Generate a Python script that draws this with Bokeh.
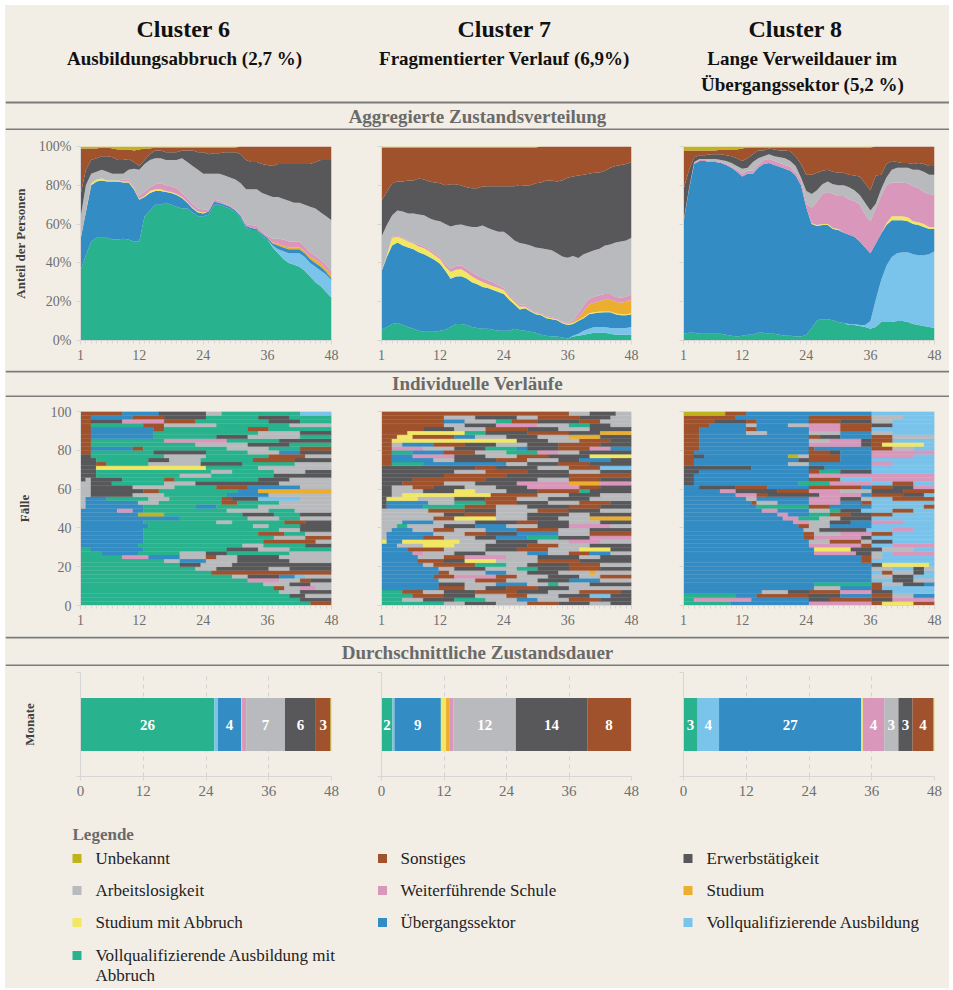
import textwrap
import numpy as np
from bokeh.plotting import figure
from bokeh.layouts import column, row
from bokeh.models import Range1d, FixedTicker, ColumnDataSource, NumeralTickFormatter, CustomJSTickFormatter
from bokeh.core.properties import value
from bokeh.embed import file_html
from bokeh.resources import INLINE

# ------------------------------------------------------------------ data
months = list(range(1, 49))

# stacking order (bottom -> top)
state_keys = ["vma", "va", "ues", "sma", "stud", "ws", "al", "erw", "sonst", "unb"]
state_labels = ["Vollqualifizierende Ausbildung mit Abbruch", "Vollqualifizierende Ausbildung",
                "Übergangssektor", "Studium mit Abbruch", "Studium", "Weiterführende Schule",
                "Arbeitslosigkeit", "Erwerbstätigkeit", "Sonstiges", "Unbekannt"]
state_colors = ["#28B38E", "#7AC3EB", "#338CC3", "#F2E763", "#EBAE2E", "#D997BB",
                "#B9BABD", "#58585B", "#A0522D", "#BFB41C"]
state_codes = ["G", "L", "B", "Y", "T", "W", "A", "E", "S", "U"]

cluster_titles = ["Cluster 6", "Cluster 7", "Cluster 8"]
cluster_subtitles = [["Ausbildungsabbruch (2,7 %)"],
                     ["Fragmentierter Verlauf (6,9%)"],
                     ["Lange Verweildauer im", "Übergangssektor (5,2 %)"]]
section_titles = ["Aggregierte Zustandsverteilung", "Individuelle Verläufe",
                  "Durchschnittliche Zustandsdauer"]
month_ticks = [1, 12, 24, 36, 48]
share_ticks = [0, 0.2, 0.4, 0.6, 0.8, 1.0]
case_ticks = [0, 20, 40, 60, 80, 100]
duration_ticks = [0, 12, 24, 36, 48]

# --- aggregated state distribution, cluster 6 (% per month)
c6_vma = [36, 44, 51, 53, 53, 53, 52, 52, 52.5, 52, 51, 51,
          64, 67, 70, 70, 71, 70, 69, 68, 68, 66, 64, 64,
          65, 70, 70, 69, 68, 66, 63, 58, 57, 57, 54, 52,
          48, 45, 42, 40, 39, 38, 36, 33, 30, 28, 25, 22]
c6_va = [0, 0, 0, 0, 0, 0, 0, 0, 0, 0, 0, 0,
         0, 0, 0, 0, 0, 0, 0, 0, 0, 0, 0, 0,
         0, 0, 0, 0, 0, 0, 0, 0, 0, 0, 0, 0,
         1, 2, 4, 5, 6, 7, 7, 7, 8, 8, 9, 9]
c6_ues = [16, 22, 29, 29, 29.5, 29, 30, 30, 29, 29.5, 27, 21.5,
          10, 9, 7, 7, 5.5, 6, 6, 5.5, 3, 2, 2, 1.5,
          1.5, 1.5, 1, 1, 1, 1, 1, 1, 1, 0.5, 1, 1,
          1, 2, 2, 2, 2, 2, 2, 2, 2, 2, 1.5, 1]
c6_sma = [0, 0, 1, 1, 1, 0.5, 0.5, 0.5, 0.5, 0.5, 0.5, 0.5,
          0.5, 1, 1, 1, 0.5, 0.5, 0.5, 0.5, 0.5, 0.5, 0.5, 0.5,
          0, 0, 0, 0, 0, 0, 0, 0, 0, 0, 0, 0,
          0, 0, 0, 0, 0, 0, 0, 0, 0, 0, 0, 0]
c6_stud = [0, 0, 0, 0, 0, 0, 0, 0, 0, 0, 0, 0,
           0, 0, 0, 0, 0, 0, 0, 0, 0, 0, 0, 0,
           0, 0, 0, 0, 0, 0, 0, 0, 0, 0, 0, 0,
           0.5, 1, 1, 1, 1, 1, 1, 1, 1.5, 1.5, 1.5, 1.5]
c6_ws = [0, 0, 0, 0, 0, 0, 0, 0, 1, 1, 0.5, 1.5,
         2, 2, 2.5, 3, 3, 3, 3, 2, 2, 2, 1.5, 1.5,
         1, 1, 1, 0.5, 0.5, 0.5, 1, 1, 1.5, 1.5, 1, 1,
         2, 2.5, 3, 3, 3, 3, 2.5, 2.5, 2, 2, 2, 2]
c6_al = [11, 14, 5, 4, 4.5, 4.5, 3.5, 3.5, 3, 5, 9.5, 13.5,
         14.5, 14, 13.5, 13, 13, 13.5, 14.5, 18, 18.5, 19.5, 20, 18.5,
         18.5, 13.5, 14, 14.5, 14.5, 15.5, 16, 18, 18.5, 19, 20, 21,
         21.5, 21.5, 21, 21, 20, 20, 21.5, 23.5, 24.5, 24.5, 25, 26.5]
c6_erw = [12, 8, 7, 7, 7, 8, 8.5, 7, 7, 5.5, 3.5, 2,
          2, 3, 4, 4, 4, 4, 4, 4, 6, 8, 9, 11,
          10, 10.5, 10.5, 12, 13, 14, 15, 15, 14, 14, 15, 15.5,
          16, 17, 18, 19, 20, 20, 21, 22, 24, 27, 29, 31]
c6_sonst = [24, 11, 6, 5, 4.5, 4.5, 4.5, 5.5, 5.5, 5, 6, 8.5,
            6, 3, 1.5, 1.5, 2.5, 2.5, 2.5, 1.5, 1.5, 1.5, 2.5, 2.5,
            3.5, 3, 3, 2.5, 2.5, 2.5, 4, 7, 8, 8, 9, 9.5,
            10, 9, 9, 9, 9, 9, 9, 9, 8, 7, 7, 7]
c6_unb = [1, 1, 1, 1, 0.5, 0.5, 1, 1.5, 1.5, 1.5, 2, 1.5,
          1, 1, 0.5, 0.5, 0.5, 0.5, 0.5, 0.5, 0.5, 0.5, 0.5, 0.5,
          0.5, 0.5, 0.5, 0.5, 0.5, 0.5, 0, 0, 0, 0, 0, 0,
          0, 0, 0, 0, 0, 0, 0, 0, 0, 0, 0, 0]

# --- cluster 7
c7_vma = [5.5, 7, 8.5, 9, 8, 7, 6, 5, 4.5, 4.5, 4.5, 5,
          5.5, 7, 8.5, 8.5, 8, 7, 6.5, 6, 6, 5.5, 5, 5,
          5, 6, 5.5, 5, 4.5, 4, 3, 2.5, 2, 2, 1.5, 1,
          2, 2.5, 3, 3.5, 4, 4, 4, 3.5, 3, 3, 3, 3]
c7_va = [0, 0, 0, 0, 0, 0, 0, 0, 0, 0, 0, 0,
         0, 0, 0, 0, 0, 0, 0, 0, 0, 0, 0, 0,
         0, 0, 0, 0, 0, 0, 0, 0, 0, 0, 0, 0,
         0.5, 1, 2, 2.5, 3, 3, 3, 3, 3.5, 3.5, 3.5, 4]
c7_ues = [30, 36, 40.5, 41.5, 41, 41, 41, 40.5, 40, 38.5, 37, 34.5,
          30.5, 25, 24.5, 24.5, 24, 23, 22.5, 21.5, 21, 20.5, 20, 19,
          16, 12.5, 10.5, 11.5, 10.5, 9.5, 10, 9, 9, 8.5, 7.5, 7,
          6, 6.5, 6.5, 7.5, 7, 7.5, 7.5, 8, 7, 6.5, 6.5, 6.5]
c7_sma = [0, 1, 4, 3, 3.5, 3, 3, 3, 3, 3, 2.5, 2.5,
          2, 3.5, 3.5, 3.5, 3, 3, 2.5, 2.5, 2, 2, 2, 2,
          1.5, 1.5, 1.5, 1, 0.5, 0.5, 0.5, 0.5, 0.5, 0.5, 0.5, 0.5,
          0.5, 0.5, 0.5, 0.5, 0.5, 0.5, 0.5, 0.5, 0.5, 0.5, 0.5, 0.5]
c7_stud = [0, 0, 0, 0, 0, 0, 0, 0, 0, 0, 0, 0,
           0, 0, 0, 0, 0, 0, 0, 0, 0, 0, 0, 0,
           0, 0, 0, 0, 0, 0, 0, 0, 0, 0, 0, 0,
           0.5, 1.5, 3, 4.5, 5, 5.5, 6, 6, 6, 6, 6.5, 7]
c7_ws = [0, 0, 0.5, 0.5, 0.5, 0.5, 0.5, 1, 1, 1, 1, 1,
         1.5, 1.5, 2, 2, 2, 2, 2, 2, 2, 2, 1.5, 1,
         1, 1, 1, 1, 0.5, 0.5, 0.5, 0.5, 0.5, 0.5, 0.5, 0.5,
         1, 2, 3, 3, 3, 3, 3, 3, 2.5, 2.5, 2.5, 3]
c7_al = [18, 15.5, 11, 13, 13.5, 14, 15, 15.5, 16, 16, 17, 18.5,
         20.5, 22, 21, 21, 22, 23.5, 25, 27, 27, 27, 27.5, 29,
         30.5, 30.5, 32, 31, 33, 33.5, 33.5, 34.5, 34.5, 33.5, 33.5, 33.5,
         33, 28.5, 26.5, 24, 24, 24, 25, 25.5, 28, 29, 29, 29]
c7_erw = [18.5, 17, 16.5, 15, 15.5, 17, 17, 18.5, 18.5, 19, 19.5, 19.5,
          20, 22, 21, 20, 20, 20, 20, 20, 21.5, 22.5, 23.5, 23.5,
          25.5, 28, 30, 30, 31, 33, 34, 35.5, 36, 37, 39.5, 41,
          41, 42.5, 41, 40.5, 40, 39.5, 38.5, 39.5, 39.5, 39.5, 39.5, 39]
c7_sonst = [27.5, 23, 18.5, 17.5, 17.5, 17, 17, 16, 16.5, 17.5, 18, 18.5,
            19.5, 19, 19, 19.5, 20.5, 21, 21, 20, 20, 20, 20, 20,
            20, 20, 19.5, 19.5, 19.5, 18.5, 18.5, 17.5, 17.5, 18, 17.5, 16,
            15.5, 15, 14.5, 14, 13.5, 13.5, 12.5, 11, 10, 9.5, 9, 8]
c7_unb = [0.5, 0.5, 0.5, 0.5, 0.5, 0.5, 0.5, 0.5, 0.5, 0.5, 0.5, 0.5,
          0.5, 0.5, 0.5, 0.5, 0.5, 0.5, 0.5, 0.5, 0.5, 0.5, 0.5, 0.5,
          0.5, 0.5, 0.5, 0.5, 0.5, 0.5, 0, 0, 0, 0, 0, 0,
          0, 0, 0, 0, 0, 0, 0, 0, 0, 0, 0, 0]

# --- cluster 8
c8_vma = [3.5, 4, 4, 3.5, 3.5, 3.5, 3.5, 3.5, 3, 2.5, 2, 2.5,
          3, 3, 4, 4, 3.5, 3.5, 3, 2.5, 2.5, 2, 2, 3,
          6.5, 10.5, 11, 11, 10.5, 9.5, 9, 8, 8, 7.5, 7, 6,
          7, 9.5, 9.5, 9.5, 10, 10, 9.5, 8.5, 8, 7.5, 7, 6.5]
c8_va = [0, 0, 0, 0, 0, 0, 0, 0, 0, 0, 0, 0,
         0, 0, 0, 0, 0, 0, 0, 0, 0, 0, 0, 0,
         0, 0, 0, 0, 0, 0, 0, 0.5, 0.5, 0.5, 1, 4,
         14, 21.5, 29, 33.5, 35, 35.5, 36, 36, 36, 36.5, 37.5, 39.5]
c8_ues = [57.5, 73.5, 87, 89, 89, 88.5, 88.5, 88, 87.5, 86.5, 85, 82,
          83, 83, 85, 87, 88, 87, 86.5, 86, 85, 83, 78, 65.5,
          53.5, 48.5, 48.5, 48.5, 47, 47.5, 46.5, 46, 45, 43, 40, 35,
          29, 24, 21, 19, 17, 16.5, 16, 15.5, 15.5, 14.5, 13, 11.5]
c8_sma = [0, 0, 0, 0, 0, 0, 0, 0, 0, 0, 0, 0,
          0, 0, 0, 0, 0, 0, 0, 0, 0, 0, 0, 0,
          0.5, 0.5, 0.5, 0.5, 0.5, 0.5, 0, 0, 0, 0, 0, 0,
          0, 0, 1, 2, 2, 2, 2, 1.5, 1.5, 1.5, 1, 1]
c8_stud = [0, 0, 0, 0, 0, 0, 0, 0, 0, 0, 0, 0,
           0, 0, 0, 0, 0, 0, 0, 0, 0, 0, 0, 0,
           0, 0, 0, 0, 0, 0, 0, 0, 0, 0, 0, 0,
           0, 0, 0, 0, 0, 0, 0, 0, 0, 0, 0, 0]
c8_ws = [0, 0, 0.5, 0.5, 0.5, 0.5, 0.5, 0.5, 0.5, 0.5, 1, 1.5,
         1.5, 1.5, 1.5, 2, 2, 2, 2, 2, 2, 1.5, 2.5, 2,
         8, 12, 15.5, 16.5, 17.5, 17, 19, 18, 18.5, 19, 17, 16.5,
         18, 19.5, 19.5, 17.5, 17.5, 17.5, 17.5, 18, 17.5, 16.5, 17, 16.5]
c8_al = [0.5, 0.5, 0.5, 0.5, 0.5, 1, 1, 1, 1.5, 2, 2, 2.5,
         1.5, 4.5, 3.5, 2, 2.5, 2.5, 3, 3.5, 3, 3.5, 1.5, 6.5,
         7, 6, 5, 5.5, 5, 5.5, 5.5, 6.5, 5.5, 5, 6, 5.5,
         2.5, 3.5, 4, 6.5, 7.5, 7.5, 8, 8.5, 9.5, 10.5, 10, 10.5]
c8_erw = [16.5, 9.5, 2.5, 2, 2, 2.5, 2.5, 3, 3, 3.5, 4, 4,
          5, 4, 4, 3, 3, 3.5, 3.5, 4, 5, 5, 7, 8.5,
          10, 9, 7, 6, 6.5, 6.5, 6.5, 6.5, 7.5, 9.5, 10, 10.5,
          14.5, 7.5, 7, 4.5, 3, 2.5, 2.5, 3, 3.5, 4, 4.5, 4.5]
c8_sonst = [20, 10.5, 3.5, 2.5, 2.5, 2, 2, 2.5, 3, 3.5, 4.5, 6.5,
            5.5, 3.5, 1.5, 1.5, 0.5, 1, 1.5, 1.5, 2, 4.5, 8.5, 14,
            14, 13, 12, 11.5, 12.5, 13, 13, 14, 14.5, 15, 18.5, 22,
            15, 14.5, 9, 7.5, 8, 8.5, 8.5, 9, 8.5, 9, 10, 10]
c8_unb = [2, 2, 2, 2, 2, 2, 2, 1.5, 1.5, 1.5, 1.5, 1,
          0.5, 0.5, 0.5, 0.5, 0.5, 0.5, 0.5, 0.5, 0.5, 0.5, 0.5, 0.5,
          0.5, 0.5, 0.5, 0.5, 0.5, 0.5, 0.5, 0.5, 0.5, 0.5, 0.5, 0.5,
          0, 0, 0, 0, 0, 0, 0, 0, 0, 0, 0, 0]

# --- individual sequences (each string = one row of cases, bottom -> top;
#     token = state code + last month of the spell)
c6_rows = [
    "G44 S48", "G42 E48", "G40 E43 A48", "G38 A42 E48", "G37 S39 A42 W45 A48",
    "G35 A40 E44 A48", "G32 W38 A42 S44 E48", "G29 A32 E38 B41 L43 A48", "G25 S48",
    "G22 A26 E36 A40 E48", "G19 E23 A29 E48", "G16 A19 B24 A30 E40 A48",
    "G8 W13 B19 A24 S26 A30 E38 A48", "G4 B11 G19 A24 E28 G40 A48", "G2 B12 G28 E34 A40 G48",
    "B11 G31 A35 G43 E48", "B12 G35 S45 A48", "B12 G37 A43 S48", "B12 G34 S39 G43 A48",
    "B12 G38 A42 E48", "B13 G33 A36 G42 E48", "B12 G26 A29 G39 S43 E48", "B19 G32 A38 G42 A48",
    "B11 U16 G31 E37 G42 E48", "B7 W10 B12 G28 A36 G41 A48", "A1 B12 G22 B26 G34 A48",
    "A1 B11 A15 G27 S30 G38 A48", "A1 B5 G13 A17 G27 S29 E34 L42 A48", "A2 E10 A16 G28 B36 A48",
    "A2 E12 S15 G30 B34 T48", "A2 E10 A18 G26 S32 B42 A48", "A2 E6 G16 A22 E38 A48",
    "E1 A2 E8 G16 S18 G34 E40 A48", "E3 G19 A25 G37 E48", "E3 G25 A29 G37 A43 E48",
    "E3 Y24 G34 A48", "E3 S5 G13 A23 E31 G41 A48", "E3 G13 E17 A23 G33 S41 E48",
    "E2 G16 A24 G36 S43 A48", "S2 G14 E24 G32 A38 B42 E48", "S2 B10 S12 G28 A36 G42 S48",
    "S2 G22 A32 E40 G48", "S2 G16 W28 G38 E48", "S2 B14 G26 E32 A42 G48", "S2 B14 G34 A42 E48",
    "S2 B14 S16 G32 S36 G48", "S2 G12 S16 A26 G40 A48", "S2 E8 W16 S22 G36 E42 G48",
    "S2 B10 S16 E24 G34 E40 G48", "S8 B15 E24 A27 G42 L48",
]
c7_rows = [
    "G12 A16 E22 A28 S34 E40 A44 E48", "G4 A8 E14 G20 A26 B30 A36 S42 E48",
    "G6 S12 E18 A24 S28 A34 E40 L44 E48", "G4 S8 A12 E18 S26 E32 A38 S46 E48",
    "B11 S16 A20 E24 S30 E36 A48", "B11 E16 A22 B28 A32 G34 A40 E48",
    "B11 A18 S24 A30 E36 B42 A48", "B10 S14 W22 S26 A32 E38 A42 S48",
    "B11 S13 A20 B24 A28 E34 A40 T41 A48", "B11 A14 E20 A26 G30 E36 S42 E48",
    "B8 A10 S18 G24 A28 E36 S42 A48", "B7 S12 E16 Y22 A30 S38 E48",
    "B7 A12 S16 W24 A30 E38 A42 E48", "B6 W8 A14 E20 A28 B32 A36 S40 B44 A48",
    "B5 S12 A20 E26 S32 A38 Y44 E48", "B3 A8 Y14 A20 E28 S34 A40 E48",
    "Y1 B4 Y15 A22 E30 A36 W42 A48", "A1 B8 S12 A18 E22 B28 G34 E40 W48",
    "A1 B10 A16 S20 E26 B34 A40 S48", "A2 B6 A10 S14 A20 B26 S34 A40 E48",
    "A3 G5 A12 E18 B24 A30 E36 W44 A48", "A4 B10 A18 E26 S30 E36 A42 E48",
    "A10 S14 Y22 A28 E34 A40 T48", "A12 E16 S22 A28 E36 A40 E48",
    "A9 S16 E22 A30 S36 E42 A48", "E1 B8 G16 S22 A28 E36 S42 E48",
    "E1 B9 A14 G20 S26 E32 A38 S44 E48", "E1 Y7 A14 E20 S26 A32 E40 A48",
    "E2 A4 Y21 S30 A36 E42 A48", "E2 A8 E14 Y18 A24 E30 S38 G40 E48",
    "E2 A6 S10 E16 A22 E28 W38 S42 E48", "E4 S12 A18 E26 W36 T42 W48",
    "E6 S20 E30 A36 S42 E48", "E12 S24 E36 S48", "E14 A20 S28 E36 A42 E48",
    "E18 S22 E30 A36 S42 L48", "S2 G8 B24 A28 E34 S40 E48",
    "S2 B10 A14 E22 S28 A34 E38 B44 E48", "S2 B6 W14 E20 A26 S32 E40 Y48",
    "S2 G6 B12 S18 A24 G30 W34 A38 E48", "S2 W8 A14 E20 G26 B28 E34 S40 W44 B48",
    "S2 A4 B10 S16 E22 A28 E34 S42 E48", "S2 Y26 E32 A38 S44 E48",
    "S3 Y6 S14 B18 A24 E30 A36 T42 E48", "S5 Y16 G20 E28 S36 E42 T48",
    "S8 E14 A20 S28 E34 A40 E48", "S12 A16 E22 W30 A36 G40 E44 A48",
    "S12 B16 A22 G25 S30 E38 S42 A48", "S12 A18 E26 A30 S38 E44 A48", "S36 A40 E45 A48",
]
c8_rows = [
    "G9 B24 W36 S38 Y44 S48", "G2 W13 B24 E28 S36 E40 W48", "G10 B14 S24 E30 B36 S40 A44 B48",
    "B15 A20 E24 S30 W36 E40 L48", "B25 A30 B36 S38 L48", "B25 G36 S38 A42 E46 B48",
    "B36 L40 E44 A48", "B36 A40 E44 L48", "B36 L38 S40 A44 E46 L48", "B36 A40 L44 E46 A48",
    "B36 E38 Y47 L48", "B34 S36 L48", "B34 S36 A38 L48", "B25 W33 E36 A38 L40 W48",
    "B25 Y32 E38 A44 L48", "B24 W34 S36 L40 W48", "B24 A28 S34 A36 E40 L48",
    "B23 S25 W34 E36 L48", "B23 S25 A30 W36 S40 L48", "B23 A26 E35 L40 W44 L48",
    "B22 S24 A28 B36 L48", "B21 W24 A28 E32 B36 W42 L48", "B19 W22 G26 A30 E36 L48",
    "B18 W20 B24 G28 S32 E36 S40 L48", "B15 W18 B24 A28 G30 E34 L40 S44 L48",
    "B14 G24 S28 B36 L46 S48", "B13 S14 A18 B24 W30 B34 S36 L48",
    "B12 A14 B24 W30 E34 A36 L40 S48", "B10 W14 S16 E26 W34 B36 S42 E46 L48",
    "B7 W10 E18 S24 W30 A36 E42 S48", "B3 E10 S16 B24 S34 B36 S40 E44 W48",
    "E2 B22 G28 W36 L40 S44 L48", "E2 B24 S30 L36 W48", "E2 B24 W48",
    "E3 B24 S26 G30 E36 L48", "E13 B24 E27 B36 L48", "S2 B20 A24 B36 W40 L48",
    "S2 B22 E24 S30 B36 L48", "S2 E4 B20 U22 A24 S30 B36 W44 L48", "S2 B24 S28 E30 B36 W48",
    "S3 B24 S25 B36 S40 A44 L48", "S3 B24 W34 E36 S38 Y46 L48", "S3 B24 A28 W34 E36 S40 L48",
    "S3 B24 S26 E30 B36 S40 A48", "S3 B12 A16 B24 A30 B36 A40 L48",
    "S3 B12 S14 B24 W30 S36 L48", "S5 B12 A14 B20 A24 W30 S36 E40 L48",
    "S6 E12 S14 B24 S30 E36 A40 L48", "S10 B24 S36 A42 L48", "U8 S12 B36 L48",
]

# --- mean duration per state (months), same order as state_keys
c6_dur = [25.6, 0.7, 4.4, 0.1, 0.1, 0.8, 7.4, 5.9, 2.8, 0.2]
c7_dur = [2.1, 0.4, 8.9, 1.0, 0.6, 0.8, 12.0, 13.7, 8.4, 0.1]
c8_dur = [2.7, 4.1, 27.2, 0.3, 0.0, 4.1, 2.7, 2.7, 4.0, 0.2]

# ------------------------------------------------------------------ style
BG = "#F2EEE6"
FONT = "Liberation Serif"
AXIS_C = "#D6D6D6"
TICK_TXT = "#6E6E6E"
RULE_C = "#7C7C7C"
TOTAL_W = 944

FIG_W = [351, 302, 291]
BORDER_L = [75, 25, 25]
FRAME_W = [251, 250, 251]

color_of = dict(zip(state_codes, state_colors))


def base_fig(w, h, xr, yr, left=0, right=0, top=0, bottom=0, axes=True):
    kw = {}
    if not axes:
        kw = dict(x_axis_location=None, y_axis_location=None)
    p = figure(width=w, height=h, x_range=xr, y_range=yr, output_backend="svg",
               toolbar_location=None, title=None, min_border_left=left,
               min_border_right=right, min_border_top=top, min_border_bottom=bottom, **kw)
    p.background_fill_color = BG
    p.border_fill_color = BG
    p.outline_line_color = None
    p.grid.visible = False
    p.styles = {"background-color": BG}
    return p


def band(h):
    return base_fig(TOTAL_W, h, Range1d(0, TOTAL_W), Range1d(h, 0), axes=False)


def put_text(p, x, y, s, size, color="#111111", bold=False, align="center"):
    p.text(x=[x], y=[y], text=[s], text_font=value(FONT), text_font_size=size,
           text_font_style="bold" if bold else "normal", text_color=color,
           text_align=align, text_baseline="middle")


def rule(p, y):
    p.segment(x0=[0], x1=[TOTAL_W], y0=[y], y1=[y], line_color=RULE_C, line_width=2)


def style_axis(a, label_size="14px"):
    a.axis_line_color = AXIS_C
    a.major_tick_line_color = AXIS_C
    a.minor_tick_line_color = AXIS_C
    a.major_tick_in = 0
    a.major_tick_out = 4
    a.minor_tick_in = 0
    a.minor_tick_out = 3
    a.major_label_text_font = FONT
    a.major_label_text_font_size = label_size
    a.major_label_text_color = TICK_TXT
    a.major_label_standoff = 5
    a.axis_label_text_font = FONT
    a.axis_label_text_font_size = "13px"
    a.axis_label_text_font_style = "bold"
    a.axis_label_text_color = "#404040"


def panel(col, h, top, bottom, xr, yr):
    return base_fig(FIG_W[col], h, xr, yr, left=BORDER_L[col],
                    right=FIG_W[col] - BORDER_L[col] - FRAME_W[col], top=top, bottom=bottom)


blank = CustomJSTickFormatter(code="return '';")


def area_panel(col, series):
    p = panel(col, 240, 16, 30, Range1d(1, 48), Range1d(0, 1))
    arr = np.array(series, dtype=float)
    tot = arr.sum(axis=0)
    data = {"m": months}
    for k, vals in zip(state_keys, arr):
        data[k] = list(vals / tot)
    p.varea_stack(stackers=state_keys, x="m", color=state_colors,
                  source=ColumnDataSource(data))
    style_axis(p.xaxis[0])
    style_axis(p.yaxis[0])
    p.xaxis.ticker = FixedTicker(ticks=month_ticks, minor_ticks=months)
    p.yaxis.ticker = FixedTicker(ticks=share_ticks, minor_ticks=[])
    if col == 0:
        p.yaxis.formatter = NumeralTickFormatter(format="0%")
        p.yaxis.axis_label = "Anteil der Personen"
        p.yaxis.axis_label_standoff = 8
    else:
        p.yaxis.formatter = blank
    return p


def index_panel(col, rows):
    p = panel(col, 239, 14, 31, Range1d(1, 48), Range1d(0, 100))
    n = len(rows)
    hgt = 100.0 / n
    cell = 47.0 / 48.0
    L, R, B, T, C = [], [], [], [], []
    for i, r in enumerate(rows):
        start = 0
        for tok in r.split():
            code, end = tok[0], min(int(tok[1:]), 48)
            if end <= start:
                continue
            L.append(1 + start * cell)
            R.append(1 + end * cell)
            B.append(i * hgt)
            T.append((i + 1) * hgt)
            C.append(color_of[code])
            start = end
    p.quad(left=L, right=R, bottom=B, top=T, fill_color=C, line_color=C, line_width=0.3)
    style_axis(p.xaxis[0])
    style_axis(p.yaxis[0])
    p.xaxis.ticker = FixedTicker(ticks=month_ticks, minor_ticks=months)
    p.yaxis.ticker = FixedTicker(ticks=case_ticks, minor_ticks=[])
    if col == 0:
        p.yaxis.axis_label = "Fälle"
        p.yaxis.axis_label_standoff = 16
    else:
        p.yaxis.formatter = blank
    return p


def bar_panel(col, dur):
    p = panel(col, 144, 6, 34, Range1d(0, 48), Range1d(0, 1))
    p.xgrid.visible = True
    p.xgrid.ticker = FixedTicker(ticks=duration_ticks[1:])
    p.xgrid.grid_line_color = "#D2D2D2"
    p.xgrid.grid_line_dash = "4 4"
    lefts = np.concatenate([[0], np.cumsum(dur)[:-1]])
    rights = np.cumsum(dur)
    p.hbar(y=[0.5] * len(dur), left=list(lefts), right=list(rights), height=0.51,
           fill_color=state_colors, line_color=None)
    lx, lt = [], []
    for l, v in zip(lefts, dur):
        if v >= 1.5:
            lx.append(l + v / 2)
            lt.append(str(int(round(v))))
    p.text(x=lx, y=[0.5] * len(lx), text=lt, text_font=value(FONT), text_font_size="15px",
           text_font_style="bold", text_color="white", text_align="center",
           text_baseline="middle")
    style_axis(p.xaxis[0], "15px")
    style_axis(p.yaxis[0])
    p.xaxis.ticker = FixedTicker(ticks=duration_ticks, minor_ticks=[])
    p.yaxis.ticker = FixedTicker(ticks=[0, 1], minor_ticks=[])
    p.yaxis.formatter = blank
    if col == 0:
        p.yaxis.axis_label = "Monate"
        p.yaxis.axis_label_standoff = 40
    return p


# ------------------------------------------------------------------ build
c6_series = [c6_vma, c6_va, c6_ues, c6_sma, c6_stud, c6_ws, c6_al, c6_erw, c6_sonst, c6_unb]
c7_series = [c7_vma, c7_va, c7_ues, c7_sma, c7_stud, c7_ws, c7_al, c7_erw, c7_sonst, c7_unb]
c8_series = [c8_vma, c8_va, c8_ues, c8_sma, c8_stud, c8_ws, c8_al, c8_erw, c8_sonst, c8_unb]

# header band
hdr = band(125)
title_x = [178, 499, 790]
sub_x = [179, 499, 797]
for i in range(3):
    put_text(hdr, title_x[i], 23, cluster_titles[i], "24px", bold=True)
    for j, line in enumerate(cluster_subtitles[i]):
        put_text(hdr, sub_x[i], 53 + 26 * j, line, "19px", bold=True)
rule(hdr, 97)
put_text(hdr, TOTAL_W / 2, 111, section_titles[0], "19px", color="#6A6A6A", bold=True)
rule(hdr, 124)

sec2 = band(27)
rule(sec2, 1)
put_text(sec2, TOTAL_W / 2, 13, section_titles[1], "19px", color="#6A6A6A", bold=True)
rule(sec2, 26)

sec3 = band(30)
rule(sec3, 1)
put_text(sec3, TOTAL_W / 2, 16, section_titles[2], "19px", color="#6A6A6A", bold=True)
rule(sec3, 29)

# legend band
leg = band(178)
put_text(leg, 67, 24, "Legende", "17px", color="#6A6A6A", bold=True, align="left")
leg_order = list(range(len(state_keys)))[::-1]
sw_x = [71.5, 377, 682.5]
tx_x = [90, 395, 701]
row_y = [48, 80, 112, 145]
for n, si in enumerate(leg_order):
    r, c = divmod(n, 3)
    leg.rect(x=[sw_x[c]], y=[row_y[r]], width=9, height=9, fill_color=state_colors[si], line_color=None)
    for j, line in enumerate(textwrap.wrap(state_labels[si], 34)):
        put_text(leg, tx_x[c], row_y[r] + 20 * j, line, "17px", color="#222222", align="left")

bgstyle = {"background-color": BG}
row_area = row(area_panel(0, c6_series), area_panel(1, c7_series), area_panel(2, c8_series),
               spacing=0, styles=bgstyle)
row_idx = row(index_panel(0, c6_rows), index_panel(1, c7_rows), index_panel(2, c8_rows),
              spacing=0, styles=bgstyle)
row_bar = row(bar_panel(0, c6_dur), bar_panel(1, c7_dur), bar_panel(2, c8_dur),
              spacing=0, styles=bgstyle)

layout = column(hdr, row_area, sec2, row_idx, sec3, row_bar, leg, spacing=0,
                margin=(5, 0, 0, 5), styles=bgstyle)

with open("out.html", "w", encoding="utf-8") as f:
    f.write(file_html(layout, INLINE))
